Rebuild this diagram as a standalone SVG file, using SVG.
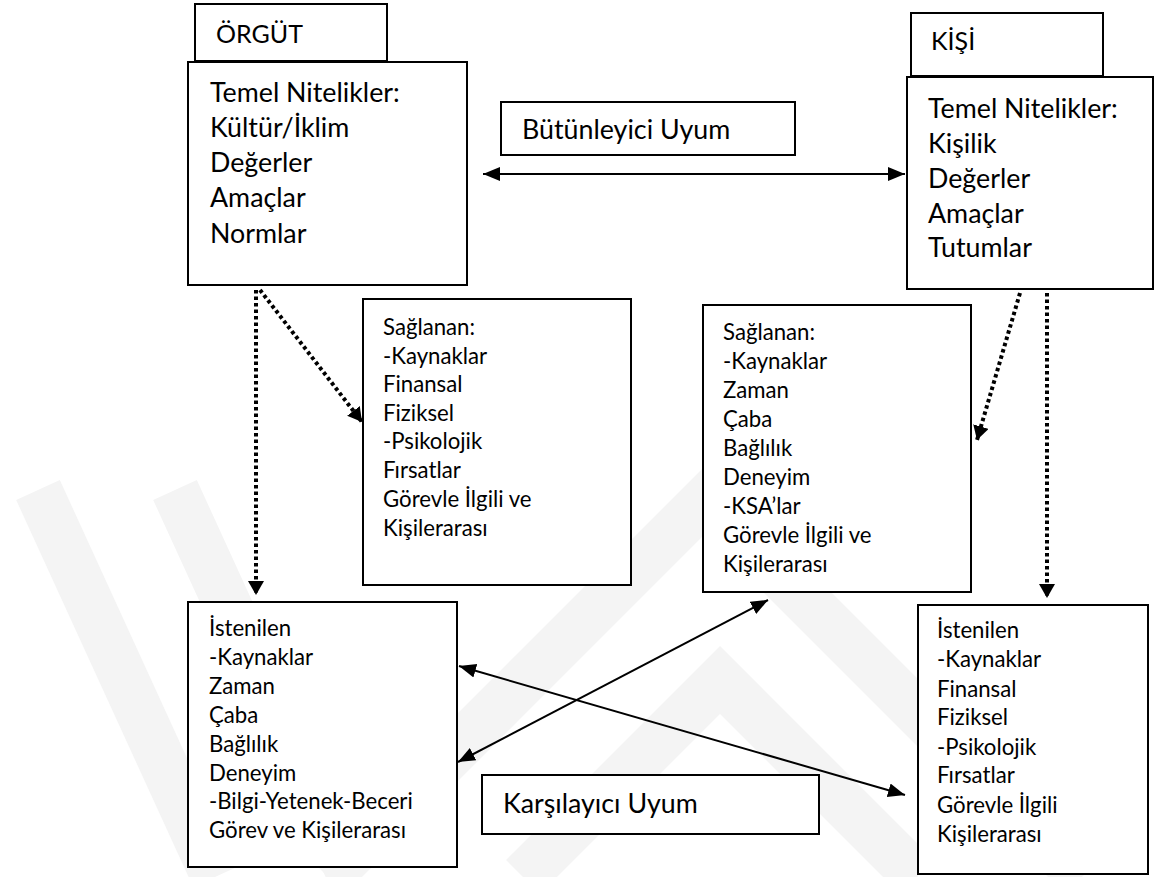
<svg xmlns="http://www.w3.org/2000/svg" width="1157" height="877" viewBox="0 0 1157 877">
<defs>
<style>
.box{fill:#fff;stroke:#000;stroke-width:2}
.big{font-family:Lato,"Liberation Sans",sans-serif;font-size:26.8px;fill:#000}
.lbl{font-family:Lato,"Liberation Sans",sans-serif;font-size:25px;fill:#000}
.sm{font-family:Lato,"Liberation Sans",sans-serif;font-size:22.2px;fill:#000}
.solid{stroke:#000;stroke-width:2;fill:none}
.dot{stroke:#000;stroke-width:4;stroke-dasharray:3.5 3;fill:none}
.wm{stroke:#f4f4f4;stroke-width:48;fill:none}
</style>
<marker id="ah" markerUnits="userSpaceOnUse" markerWidth="20" markerHeight="16" refX="17" refY="7" orient="auto-start-reverse" viewBox="0 0 20 16">
<path d="M0,0 L17,7 L0,14 Z" fill="#000"/>
</marker>
<marker id="dh" markerUnits="userSpaceOnUse" markerWidth="17" markerHeight="17" refX="14" refY="8" orient="auto" viewBox="0 0 17 17">
<path d="M0,0 L14,8 L0,16 Z" fill="#000"/>
</marker>
</defs>
<rect width="1157" height="877" fill="#fff"/>
<g id="watermark">
<line class="wm" x1="38" y1="490" x2="215" y2="877"/>
<line class="wm" x1="175" y1="490" x2="352" y2="877"/>
<polyline class="wm" points="328,877 705,500 1082,877"/>
<polyline class="wm" points="523,877 720,680 917,877"/>
</g>
<g id="connectors">
<line class="solid" x1="483" y1="174" x2="905" y2="174" marker-start="url(#ah)" marker-end="url(#ah)"/>
<line class="dot" x1="256" y1="290" x2="256" y2="595" marker-end="url(#dh)"/>
<line class="dot" x1="260" y1="290" x2="362" y2="422" marker-end="url(#dh)"/>
<line class="dot" x1="1020" y1="293" x2="977" y2="440" marker-end="url(#dh)"/>
<line class="dot" x1="1047" y1="293" x2="1047" y2="598" marker-end="url(#dh)"/>
<line class="solid" x1="458" y1="762" x2="768" y2="600" marker-start="url(#ah)" marker-end="url(#ah)"/>
<line class="solid" x1="459" y1="666" x2="905" y2="795" marker-start="url(#ah)" marker-end="url(#ah)"/>
</g>
<g id="orgut-label">
<rect class="box" x="195" y="4" width="192" height="57"/>
<text class="lbl" x="216" y="43">ÖRGÜT</text>
</g>
<g id="orgut">
<rect class="box" x="188" y="62" width="279" height="223"/>
<text class="big"><tspan x="210" y="102">Temel Nitelikler:</tspan><tspan x="210" y="137">Kültür/İklim</tspan><tspan x="210" y="172">Değerler</tspan><tspan x="210" y="207">Amaçlar</tspan><tspan x="210" y="243">Normlar</tspan></text>
</g>
<g id="kisi-label">
<rect class="box" x="911" y="13" width="192" height="63"/>
<text class="lbl" x="931" y="50">KİŞİ</text>
</g>
<g id="kisi">
<rect class="box" x="907" y="77" width="246" height="212"/>
<text class="big"><tspan x="928" y="118">Temel Nitelikler:</tspan><tspan x="928" y="153">Kişilik</tspan><tspan x="928" y="188">Değerler</tspan><tspan x="928" y="223">Amaçlar</tspan><tspan x="928" y="257">Tutumlar</tspan></text>
</g>
<g id="butunleyici">
<rect class="box" x="501" y="102" width="294" height="53"/>
<text class="big" x="522" y="139">Bütünleyici Uyum</text>
</g>
<g id="saglanan-orgut">
<rect class="box" x="363" y="299" width="268" height="286"/>
<text class="sm"><tspan x="383" y="335">Sağlanan:</tspan><tspan x="383" y="364">-Kaynaklar</tspan><tspan x="383" y="392">Finansal</tspan><tspan x="383" y="421">Fiziksel</tspan><tspan x="383" y="449">-Psikolojik</tspan><tspan x="383" y="478">Fırsatlar</tspan><tspan x="383" y="507">Görevle İlgili ve</tspan><tspan x="383" y="536">Kişilerarası</tspan></text>
</g>
<g id="saglanan-kisi">
<rect class="box" x="703" y="305" width="268" height="287"/>
<text class="sm"><tspan x="723" y="340">Sağlanan:</tspan><tspan x="723" y="369">-Kaynaklar</tspan><tspan x="723" y="398">Zaman</tspan><tspan x="723" y="427">Çaba</tspan><tspan x="723" y="456">Bağlılık</tspan><tspan x="723" y="485">Deneyim</tspan><tspan x="723" y="514">-KSA’lar</tspan><tspan x="723" y="543">Görevle İlgili ve</tspan><tspan x="723" y="572">Kişilerarası</tspan></text>
</g>
<g id="istenilen-orgut">
<rect class="box" x="188" y="602" width="269" height="265"/>
<text class="sm"><tspan x="209" y="636">İstenilen</tspan><tspan x="209" y="665">-Kaynaklar</tspan><tspan x="209" y="694">Zaman</tspan><tspan x="209" y="723">Çaba</tspan><tspan x="209" y="752">Bağlılık</tspan><tspan x="209" y="781">Deneyim</tspan><tspan x="209" y="809">-Bilgi-Yetenek-Beceri</tspan><tspan x="209" y="838">Görev ve Kişilerarası</tspan></text>
</g>
<g id="istenilen-kisi">
<rect class="box" x="918" y="605" width="230" height="269"/>
<text class="sm"><tspan x="937" y="638">İstenilen</tspan><tspan x="937" y="667">-Kaynaklar</tspan><tspan x="937" y="697">Finansal</tspan><tspan x="937" y="725">Fiziksel</tspan><tspan x="937" y="755">-Psikolojik</tspan><tspan x="937" y="783">Fırsatlar</tspan><tspan x="937" y="813">Görevle İlgili</tspan><tspan x="937" y="842">Kişilerarası</tspan></text>
</g>
<g id="karsilayici">
<rect class="box" x="482" y="775" width="337" height="59"/>
<text class="big" x="503" y="813">Karşılayıcı Uyum</text>
</g>
</svg>
